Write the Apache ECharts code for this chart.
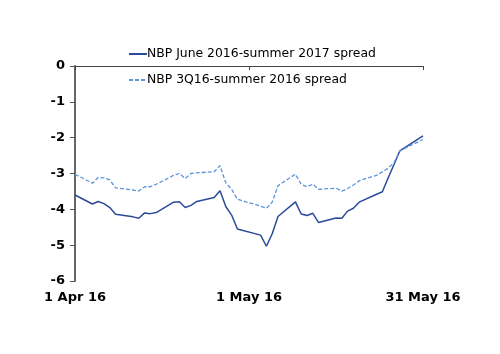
<!DOCTYPE html>
<html>
<head>
<meta charset="utf-8">
<script src="https://cdn.jsdelivr.net/npm/echarts@6/dist/echarts.min.js"></script>
<style>
  html, body { margin: 0; padding: 0; background: #fff; }
  #chart { width: 500px; height: 354px; }
</style>
</head>
<body>
<div id="chart"></div>
<script>
// trading days, April-May 2016
var dates = [
  '2016-04-01', '2016-04-04', '2016-04-05', '2016-04-06', '2016-04-07', '2016-04-08',
  '2016-04-11', '2016-04-12', '2016-04-13', '2016-04-14', '2016-04-15',
  '2016-04-18', '2016-04-19', '2016-04-20', '2016-04-21', '2016-04-22',
  '2016-04-25', '2016-04-26', '2016-04-27', '2016-04-28', '2016-04-29',
  '2016-05-03', '2016-05-04', '2016-05-05', '2016-05-06',
  '2016-05-09', '2016-05-10', '2016-05-11', '2016-05-12', '2016-05-13',
  '2016-05-16', '2016-05-17', '2016-05-18', '2016-05-19', '2016-05-20',
  '2016-05-23', '2016-05-24', '2016-05-25', '2016-05-26', '2016-05-27',
  '2016-05-31'
];
var juneSummer17 = [
  -3.6, -3.85, -3.78, -3.84, -3.95, -4.14,
  -4.21, -4.25, -4.1, -4.12, -4.09,
  -3.8, -3.79, -3.95, -3.89, -3.78,
  -3.67, -3.48, -3.92, -4.16, -4.55,
  -4.72, -5.03, -4.68, -4.2,
  -3.79, -4.13, -4.17, -4.11, -4.37,
  -4.24, -4.25, -4.05, -3.97, -3.8,
  -3.58, -3.51, -3.12, -2.75, -2.37,
  -1.95
];
var q3Summer16 = [
  -3.02, -3.27, -3.11, -3.12, -3.18, -3.4,
  -3.46, -3.49, -3.37, -3.37, -3.3,
  -3.05, -3.0, -3.14, -3.0, -2.98,
  -2.95, -2.78, -3.26, -3.44, -3.72,
  -3.91, -3.97, -3.8, -3.34,
  -3.02, -3.3, -3.37, -3.3, -3.44,
  -3.41, -3.49, -3.42, -3.32, -3.2,
  -3.05, -2.95, -2.85, -2.7, -2.37,
  -2.05
];
var xTickLabels = ['1 Apr 16', '1 May 16', '31 May 16'];
var seriesNames = ['NBP June 2016-summer 2017 spread', 'NBP 3Q16-summer 2016 spread'];

// days since 1 Apr 16
var start = Date.UTC(2016, 3, 1);
function dayOf(s) {
  var p = s.split('-');
  return Math.round((Date.UTC(+p[0], +p[1] - 1, +p[2]) - start) / 86400000);
}
function pairs(vals) {
  return dates.map(function (d, i) { return [dayOf(d), vals[i]]; });
}

var font = 'DejaVu Sans';
var myChart = echarts.init(document.getElementById('chart'));
myChart.setOption({
  animation: false,
  grid: { left: 75, right: 77, top: 66, bottom: 73 },
  legend: {
    orient: 'vertical',
    left: 123,
    top: 43,
    itemGap: 14,
    itemWidth: 18,
    itemHeight: 12,
    itemStyle: { opacity: 0 },
    textStyle: { fontFamily: font, fontSize: 12.4, color: '#000', padding: [0, 0, 0, -5] },
    data: seriesNames
  },
  xAxis: [{
    type: 'value',
    min: 0, max: 60, interval: 30,
    position: 'bottom',
    axisLine: { show: false },
    axisTick: { show: false },
    splitLine: { show: false },
    axisLabel: {
      margin: 10,
      fontFamily: font, fontSize: 13, fontWeight: 'bold', color: '#000',
      formatter: function (v) { return xTickLabels[v / 30]; }
    }
  }, {
    type: 'value',
    min: 0, max: 60, interval: 30,
    position: 'top',
    axisLine: { show: true, lineStyle: { color: '#444', width: 1 } },
    axisTick: { show: true, inside: true, length: 4, lineStyle: { color: '#444' } },
    splitLine: { show: false },
    axisLabel: { show: false }
  }],
  yAxis: {
    type: 'value',
    min: -6, max: 0, interval: 1,
    axisLine: { show: true, onZero: false, lineStyle: { color: '#666', width: 2 } },
    axisTick: { show: true, length: 5, lineStyle: { color: '#555' } },
    splitLine: { show: false },
    axisLabel: { margin: 10, fontFamily: font, fontSize: 13, fontWeight: 'bold', color: '#000' }
  },
  series: [{
    name: seriesNames[0],
    type: 'line',
    symbol: 'none',
    lineStyle: { color: '#2C4A9A', width: 1.5 },
    itemStyle: { color: '#2C4A9A' },
    data: pairs(juneSummer17)
  }, {
    name: seriesNames[1],
    type: 'line',
    symbol: 'none',
    lineStyle: { color: '#5B94DC', width: 1.3, type: [4, 2] },
    itemStyle: { color: '#5B94DC' },
    data: pairs(q3Summer16)
  }]
});
</script>
</body>
</html>
